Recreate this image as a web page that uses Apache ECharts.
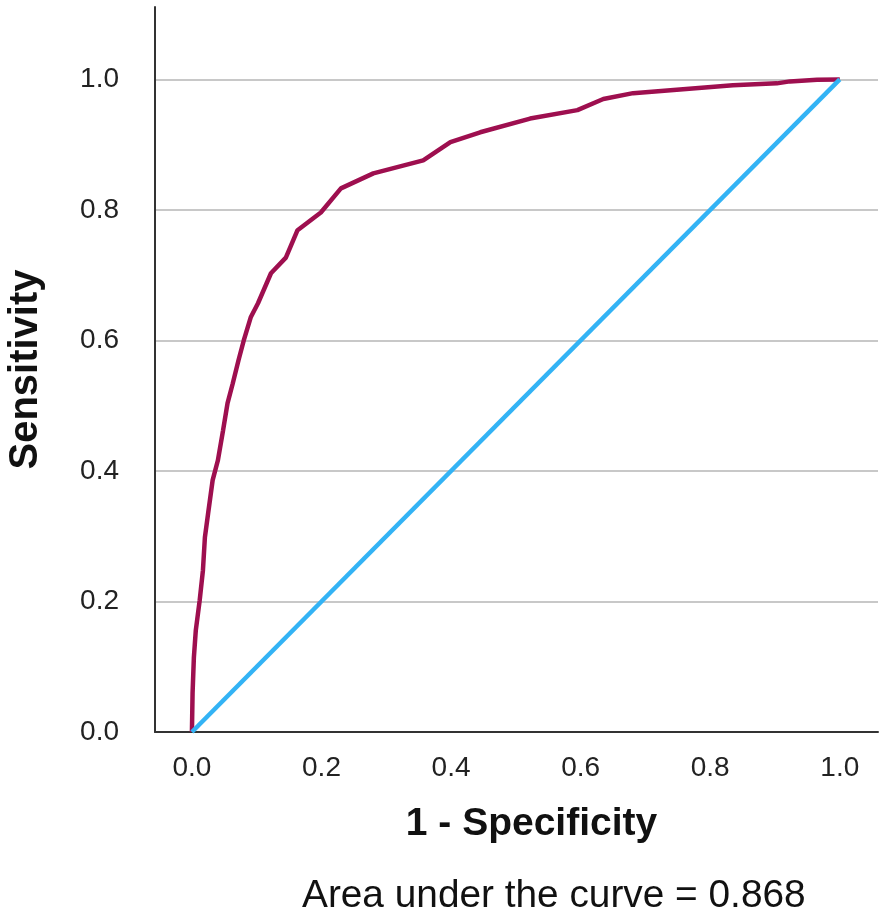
<!DOCTYPE html>
<html>
<head>
<meta charset="utf-8">
<script src="https://cdn.jsdelivr.net/npm/echarts@6/dist/echarts.min.js"></script>
<style>
html,body{margin:0;padding:0;background:#fff;}
#chart{width:888px;height:920px;}
</style>
</head>
<body>
<div id="chart"></div>
<script>
// ROC curve points (1 - Specificity, Sensitivity)
const rocFpr = [0, 0.001, 0.003, 0.006, 0.012, 0.017, 0.020, 0.025, 0.032, 0.040, 0.048, 0.055, 0.063, 0.072, 0.080, 0.091, 0.102, 0.122, 0.145, 0.163, 0.199, 0.230, 0.280, 0.357, 0.399, 0.445, 0.522, 0.595, 0.635, 0.681, 0.758, 0.835, 0.903, 0.923, 0.965, 1.0];
const rocTpr = [0, 0.060, 0.114, 0.156, 0.202, 0.248, 0.298, 0.335, 0.386, 0.416, 0.462, 0.504, 0.534, 0.570, 0.600, 0.636, 0.657, 0.703, 0.727, 0.769, 0.796, 0.833, 0.856, 0.876, 0.904, 0.919, 0.940, 0.953, 0.970, 0.979, 0.985, 0.991, 0.994, 0.997, 0.9995, 1.0];
// Reference (chance) line
const refFpr = [0, 1];
const refTpr = [0, 1];
// Tick labels
const xTicks = [0, 0.2, 0.4, 0.6, 0.8, 1.0];
const yTicks = [0, 0.2, 0.4, 0.6, 0.8, 1.0];
const xName = '1 - Specificity';
const yName = 'Sensitivity';
const aucText = 'Area under the curve = 0.868';

const font = '"Liberation Sans", Arial, Helvetica, sans-serif';
const chart = echarts.init(document.getElementById('chart'), null, {renderer: 'canvas'});
chart.setOption({
  animation: false,
  backgroundColor: '#ffffff',
  grid: {left: 155, right: 10, top: 7, bottom: 188, containLabel: false, outerBoundsMode: 'none'},
  xAxis: {
    type: 'value',
    min: -0.057, max: 1.059,
    name: xName,
    nameLocation: 'middle',
    nameGap: 73,
    nameTextStyle: {fontFamily: font, fontSize: 39, fontWeight: 'bold', color: '#111', padding: [0, 0, 0, 30]},
    axisLine: {show: true, onZero: false, lineStyle: {color: '#333', width: 2}},
    axisTick: {show: false, customValues: xTicks},
    axisLabel: {customValues: xTicks, fontFamily: font, fontSize: 28, color: '#222', margin: 22,
      formatter: v => v.toFixed(1)},
    splitLine: {show: false}
  },
  yAxis: {
    type: 'value',
    min: 0, max: 1.111,
    name: yName,
    nameLocation: 'middle',
    nameGap: 109,
    nameTextStyle: {fontFamily: font, fontSize: 40, fontWeight: 'bold', color: '#111'},
    axisLine: {show: true, onZero: false, lineStyle: {color: '#333', width: 2}},
    axisTick: {show: false, customValues: yTicks},
    axisLabel: {customValues: yTicks, fontFamily: font, fontSize: 28, color: '#222', margin: 36,
      formatter: v => v.toFixed(1)},
    splitLine: {show: true, lineStyle: {color: '#c8c8c8', width: 2}}
  },
  graphic: [{
    type: 'text',
    left: 302, top: 877,
    style: {text: aucText, fontFamily: font, fontSize: 38.8, fill: '#111'}
  }],
  series: [
    {
      name: 'ROC',
      type: 'line',
      showSymbol: false,
      smooth: false,
      data: rocFpr.map((x, i) => [x, rocTpr[i]]),
      lineStyle: {color: '#9e0f4f', width: 4.5},
      itemStyle: {color: '#9e0f4f'},
      z: 3
    },
    {
      name: 'Reference',
      type: 'line',
      showSymbol: false,
      data: refFpr.map((x, i) => [x, refTpr[i]]),
      lineStyle: {color: '#33b3f5', width: 4.5},
      itemStyle: {color: '#33b3f5'},
      z: 4
    }
  ]
});
</script>
</body>
</html>
